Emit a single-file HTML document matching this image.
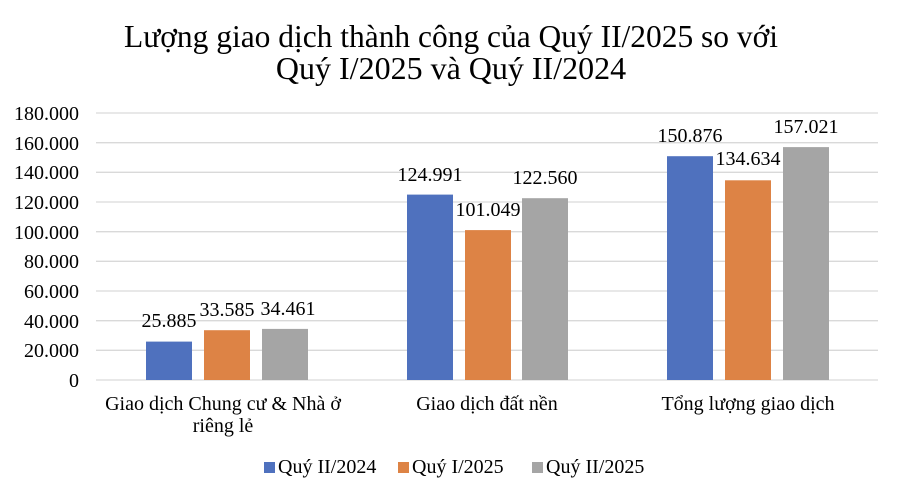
<!DOCTYPE html>
<html><head><meta charset="utf-8"><style>
html,body{margin:0;padding:0;background:#fff;width:900px;height:497px;overflow:hidden}
svg{display:block;font-family:"Liberation Serif","DejaVu Serif",serif}
</style></head><body>
<svg width="900" height="497" viewBox="0 0 900 497" xmlns="http://www.w3.org/2000/svg">
<rect width="900" height="497" fill="#fff"/>
<text x="451" y="47" font-size="32" text-anchor="middle" textLength="654" lengthAdjust="spacingAndGlyphs">Lượng giao dịch thành công của Quý II/2025 so với</text>
<text x="451" y="79" font-size="32" text-anchor="middle">Quý I/2025 và Quý II/2024</text>
<g stroke="#d9d9d9" stroke-width="1.3">
<line x1="96" x2="878" y1="113" y2="113"/><line x1="96" x2="878" y1="142.7" y2="142.7"/>
<line x1="96" x2="878" y1="172.3" y2="172.3"/><line x1="96" x2="878" y1="202" y2="202"/>
<line x1="96" x2="878" y1="231.7" y2="231.7"/><line x1="96" x2="878" y1="261.3" y2="261.3"/>
<line x1="96" x2="878" y1="291" y2="291"/><line x1="96" x2="878" y1="320.7" y2="320.7"/>
<line x1="96" x2="878" y1="350.3" y2="350.3"/><line x1="96" x2="878" y1="380" y2="380"/>
</g>
<g font-size="20" text-anchor="end" fill="#000">
<text x="79" y="120">180.000</text><text x="79" y="150">160.000</text><text x="79" y="179">140.000</text>
<text x="79" y="209">120.000</text><text x="79" y="239">100.000</text><text x="79" y="268">80.000</text>
<text x="79" y="298">60.000</text><text x="79" y="328">40.000</text><text x="79" y="357">20.000</text>
<text x="79" y="387">0</text>
</g>
<g>
<rect x="146" y="341.6" width="46" height="38.4" fill="#4f71be"/>
<rect x="204" y="330.2" width="46" height="49.8" fill="#dd8345"/>
<rect x="262" y="328.9" width="46" height="51.1" fill="#a5a5a5"/>
<rect x="407" y="194.6" width="46" height="185.4" fill="#4f71be"/>
<rect x="465" y="230.1" width="46" height="149.9" fill="#dd8345"/>
<rect x="522" y="198.2" width="46" height="181.8" fill="#a5a5a5"/>
<rect x="667" y="156.2" width="46" height="223.8" fill="#4f71be"/>
<rect x="725" y="180.3" width="46" height="199.7" fill="#dd8345"/>
<rect x="783" y="147.1" width="46" height="232.9" fill="#a5a5a5"/>
</g>
<g font-size="20" text-anchor="middle">
<text x="169" y="327">25.885</text><text x="227" y="316">33.585</text><text x="288" y="315">34.461</text>
<text x="430" y="181">124.991</text><text x="488" y="216">101.049</text><text x="545" y="184">122.560</text>
<text x="690" y="142">150.876</text><text x="748" y="165">134.634</text><text x="806" y="133">157.021</text>
</g>
<g font-size="20" text-anchor="middle">
<text x="223" y="410">Giao dịch Chung cư &amp; Nhà ở</text>
<text x="223" y="432">riêng lẻ</text>
<text x="487" y="410">Giao dịch đất nền</text>
<text x="748" y="410">Tổng lượng giao dịch</text>
</g>
<g font-size="20">
<rect x="264" y="462" width="11" height="11" fill="#4f71be"/><text x="278" y="473">Quý II/2024</text>
<rect x="398" y="462" width="11" height="11" fill="#dd8345"/><text x="412" y="473">Quý I/2025</text>
<rect x="532" y="462" width="11" height="11" fill="#a5a5a5"/><text x="546" y="473">Quý II/2025</text>
</g>
</svg>
</body></html>
